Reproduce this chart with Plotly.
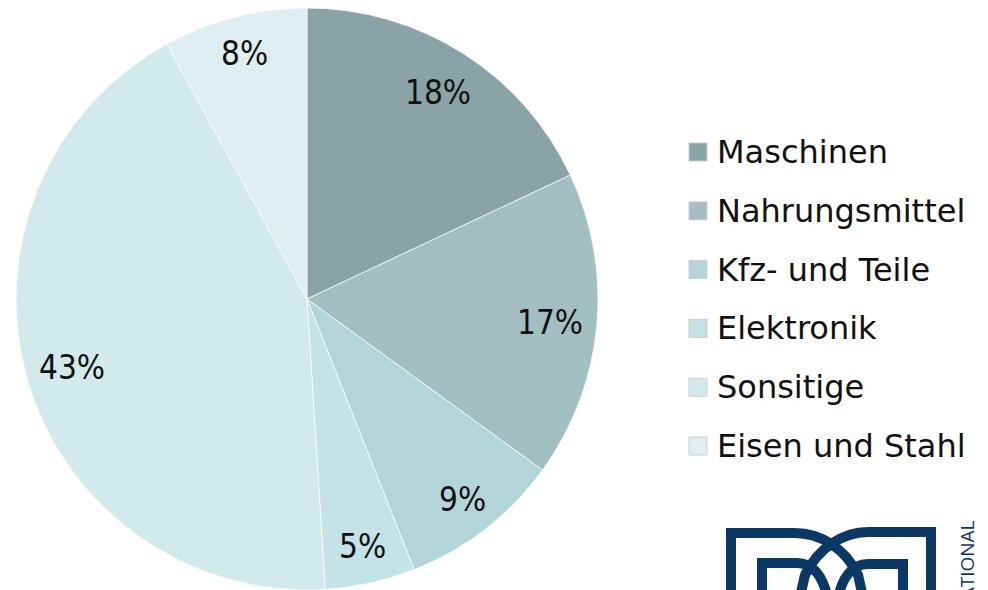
import math
import plotly.graph_objects as go

# ---- data ----
categories = ["Maschinen", "Nahrungsmittel", "Kfz- und Teile", "Elektronik", "Sonsitige", "Eisen und Stahl"]
shares = [18, 17, 9, 5, 43, 8]
colors = ["#8aa3a6", "#a3bfc2", "#b3d5d9", "#c4e3e6", "#d3eaec", "#dfeef1"]

W, H = 988, 590
OFF = 8  # page body margin

def px(x):
    return (x - OFF) / W

def py(y):
    return 1 - (y - OFF) / H

# pie geometry (reference pixels)
CX, CY, R = 307, 299, 291

fig = go.Figure()
fig.add_trace(go.Pie(
    labels=categories,
    values=shares,
    sort=False,
    direction="clockwise",
    rotation=0,
    marker=dict(colors=colors, line=dict(color="rgba(255,255,255,0.7)", width=1)),
    textinfo="none",
    showlegend=False,
    hoverinfo="label+percent",
    domain=dict(x=[px(CX - R), px(CX + R)], y=[py(CY + R), py(CY - R)]),
))

shapes = []
annotations = []

# percentage labels on the slice bisectors
total = sum(shares)
cum = 0
for v in shares:
    mid = (cum + v / 2) / total * 2 * math.pi
    cum += v
    rr = 0.84 * R if v >= 10 else 0.87 * R
    lx = CX + rr * math.sin(mid)
    ly = CY - rr * math.cos(mid)
    annotations.append(dict(text=f"{v}%", xref="paper", yref="paper", x=px(lx), y=py(ly),
                            xanchor="center", yanchor="middle", showarrow=False,
                            font=dict(family="DejaVu Sans Condensed, sans-serif", size=33, color="#111111")))

# manual legend
for i, (lab, col) in enumerate(zip(categories, colors)):
    yc = 152 + i * 58.8
    shapes.append(dict(type="rect", xref="paper", yref="paper",
                       x0=px(689), x1=px(707), y0=py(yc + 9), y1=py(yc - 9),
                       fillcolor=col, line=dict(color="#c8d0d2", width=1)))
    annotations.append(dict(text=lab, xref="paper", yref="paper", x=px(715), y=py(yc),
                            xanchor="left", yanchor="middle", showarrow=False,
                            font=dict(family="DejaVu Sans, sans-serif", size=32, color="#111111")))

# logo (partially visible, bottom right)
def path(cmds):
    out = []
    for c in cmds:
        if isinstance(c, str):
            out.append(c)
        else:
            out.append(f"{px(c[0]):.5f},{py(c[1]):.5f}")
    return " ".join(out)

navy = "#0c3866"
logo_paths = [
    ["M", (731, 610), "L", (731, 533), "L", (795, 533), "C", (820, 533), (845, 548), (858, 575), "L", (866, 610)],
    ["M", (931, 610), "L", (931, 532), "L", (868, 532), "C", (843, 532), (818, 548), (805, 575), "L", (797, 610)],
    ["M", (762, 610), "L", (762, 563), "L", (797, 563), "C", (812, 563), (825, 575), (830, 610)],
    ["M", (903, 610), "L", (903, 564), "L", (868, 564), "C", (853, 564), (840, 576), (836, 610)],
]
for p in logo_paths:
    shapes.append(dict(type="path", xref="paper", yref="paper", path=path(p),
                       line=dict(color=navy, width=10), fillcolor="rgba(0,0,0,0)"))

annotations.append(dict(text="INTERNATIONAL", xref="paper", yref="paper", x=px(967), y=py(518),
                        xanchor="center", yanchor="top", textangle=-90, showarrow=False,
                        font=dict(family="Open Sans, sans-serif", size=19, color=navy)))

fig.update_layout(
    width=W, height=H,
    margin=dict(l=0, r=0, t=0, b=0),
    paper_bgcolor="white",
    plot_bgcolor="white",
    shapes=shapes,
    annotations=annotations,
)

fig.write_html("out.html")
